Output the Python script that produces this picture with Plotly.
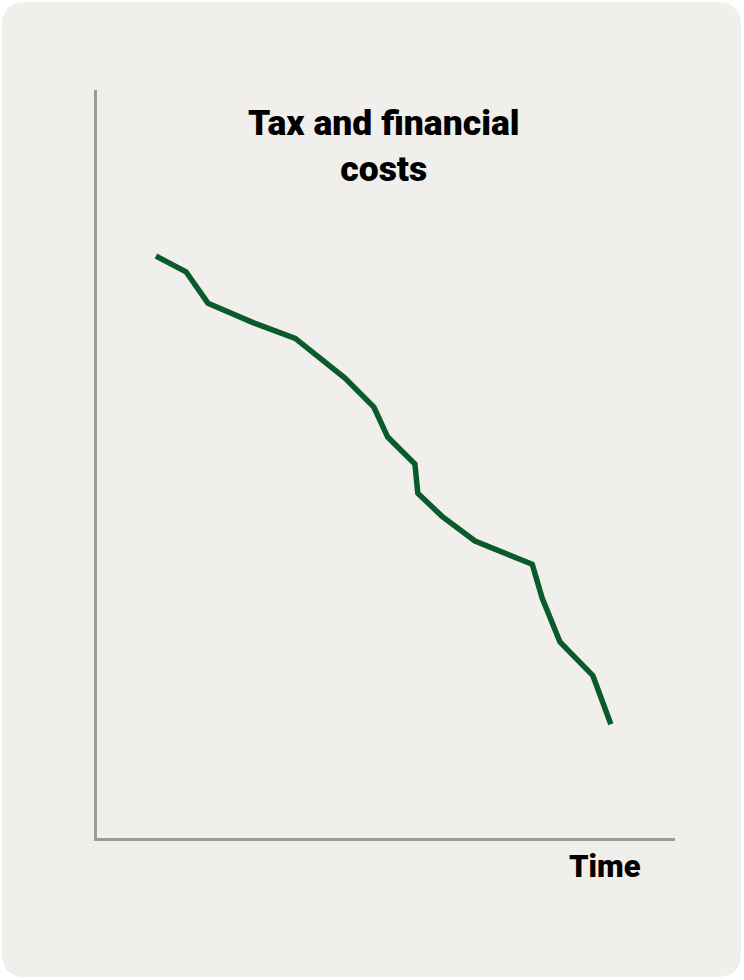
import plotly.graph_objects as go

# time (0-100) and cost level (0-100)
time = [10.2, 15.4, 19.2, 27.0, 34.3, 42.9, 47.9, 50.3, 55.0, 55.5,
        59.7, 65.4, 75.3, 77.0, 80.1, 85.8, 88.9]
costs = [77.8, 75.7, 71.5, 68.9, 66.8, 61.5, 57.6, 53.6, 50.0, 46.1,
         43.0, 39.7, 36.6, 32.1, 26.2, 21.7, 15.2]

title_text = "Tax and financial<br>costs"
x_label = "Time"

W, H = 744, 980
card = "#f0efeb"
axis_grey = "#9b9b97"
green = "#0b5a2b"

fig = go.Figure()
fig.add_trace(
    go.Scatter(
        x=time,
        y=costs,
        mode="lines",
        line={"color": green, "width": 5.5},
        hoverinfo="skip",
        showlegend=False,
    )
)

# rounded card behind everything (paper coords = whole figure since margins are 0)
x0, x1 = 2 / W, 741 / W
y0, y1 = 1 - 977 / H, 1 - 2 / H
rx, ry = 24 / W, 24 / H
path = (
    f"M {x0 + rx},{y1} L {x1 - rx},{y1} Q {x1},{y1} {x1},{y1 - ry} "
    f"L {x1},{y0 + ry} Q {x1},{y0} {x1 - rx},{y0} "
    f"L {x0 + rx},{y0} Q {x0},{y0} {x0},{y0 + ry} "
    f"L {x0},{y1 - ry} Q {x0},{y1} {x0 + rx},{y1} Z"
)
fig.add_shape(
    type="path",
    path=path,
    xref="paper",
    yref="paper",
    fillcolor=card,
    line={"width": 0},
    layer="below",
)

fig.add_annotation(
    text=title_text,
    x=384 / W,
    y=1 - 146 / H,
    xref="paper",
    yref="paper",
    xanchor="center",
    yanchor="middle",
    showarrow=False,
    font={"size": 35.5, "color": "#000000", "family": "Roboto", "weight": 900},
    align="center",
)
fig.add_annotation(
    text=x_label,
    x=605 / W,
    y=1 - 866 / H,
    xref="paper",
    yref="paper",
    xanchor="center",
    yanchor="middle",
    showarrow=False,
    font={"size": 31, "color": "#000000", "family": "Roboto", "weight": 900},
)

fig.update_layout(
    width=W,
    height=H,
    margin={"l": 0, "r": 0, "t": 0, "b": 0},
    paper_bgcolor="#ffffff",
    plot_bgcolor="rgba(0,0,0,0)",
    xaxis={
        "domain": [97 / W, 675 / W],
        "range": [0, 100],
        "showgrid": False,
        "zeroline": False,
        "showticklabels": False,
        "ticks": "",
        "showline": True,
        "linecolor": axis_grey,
        "linewidth": 3,
    },
    yaxis={
        "domain": [1 - 838 / H, 1 - 90 / H],
        "range": [0, 100],
        "showgrid": False,
        "zeroline": False,
        "showticklabels": False,
        "ticks": "",
        "showline": True,
        "linecolor": axis_grey,
        "linewidth": 3,
    },
)

fig.write_html(
    "out.html",
    config={"displayModeBar": False},
    post_script="document.body.style.margin='0';document.body.style.overflow='hidden';",
)
